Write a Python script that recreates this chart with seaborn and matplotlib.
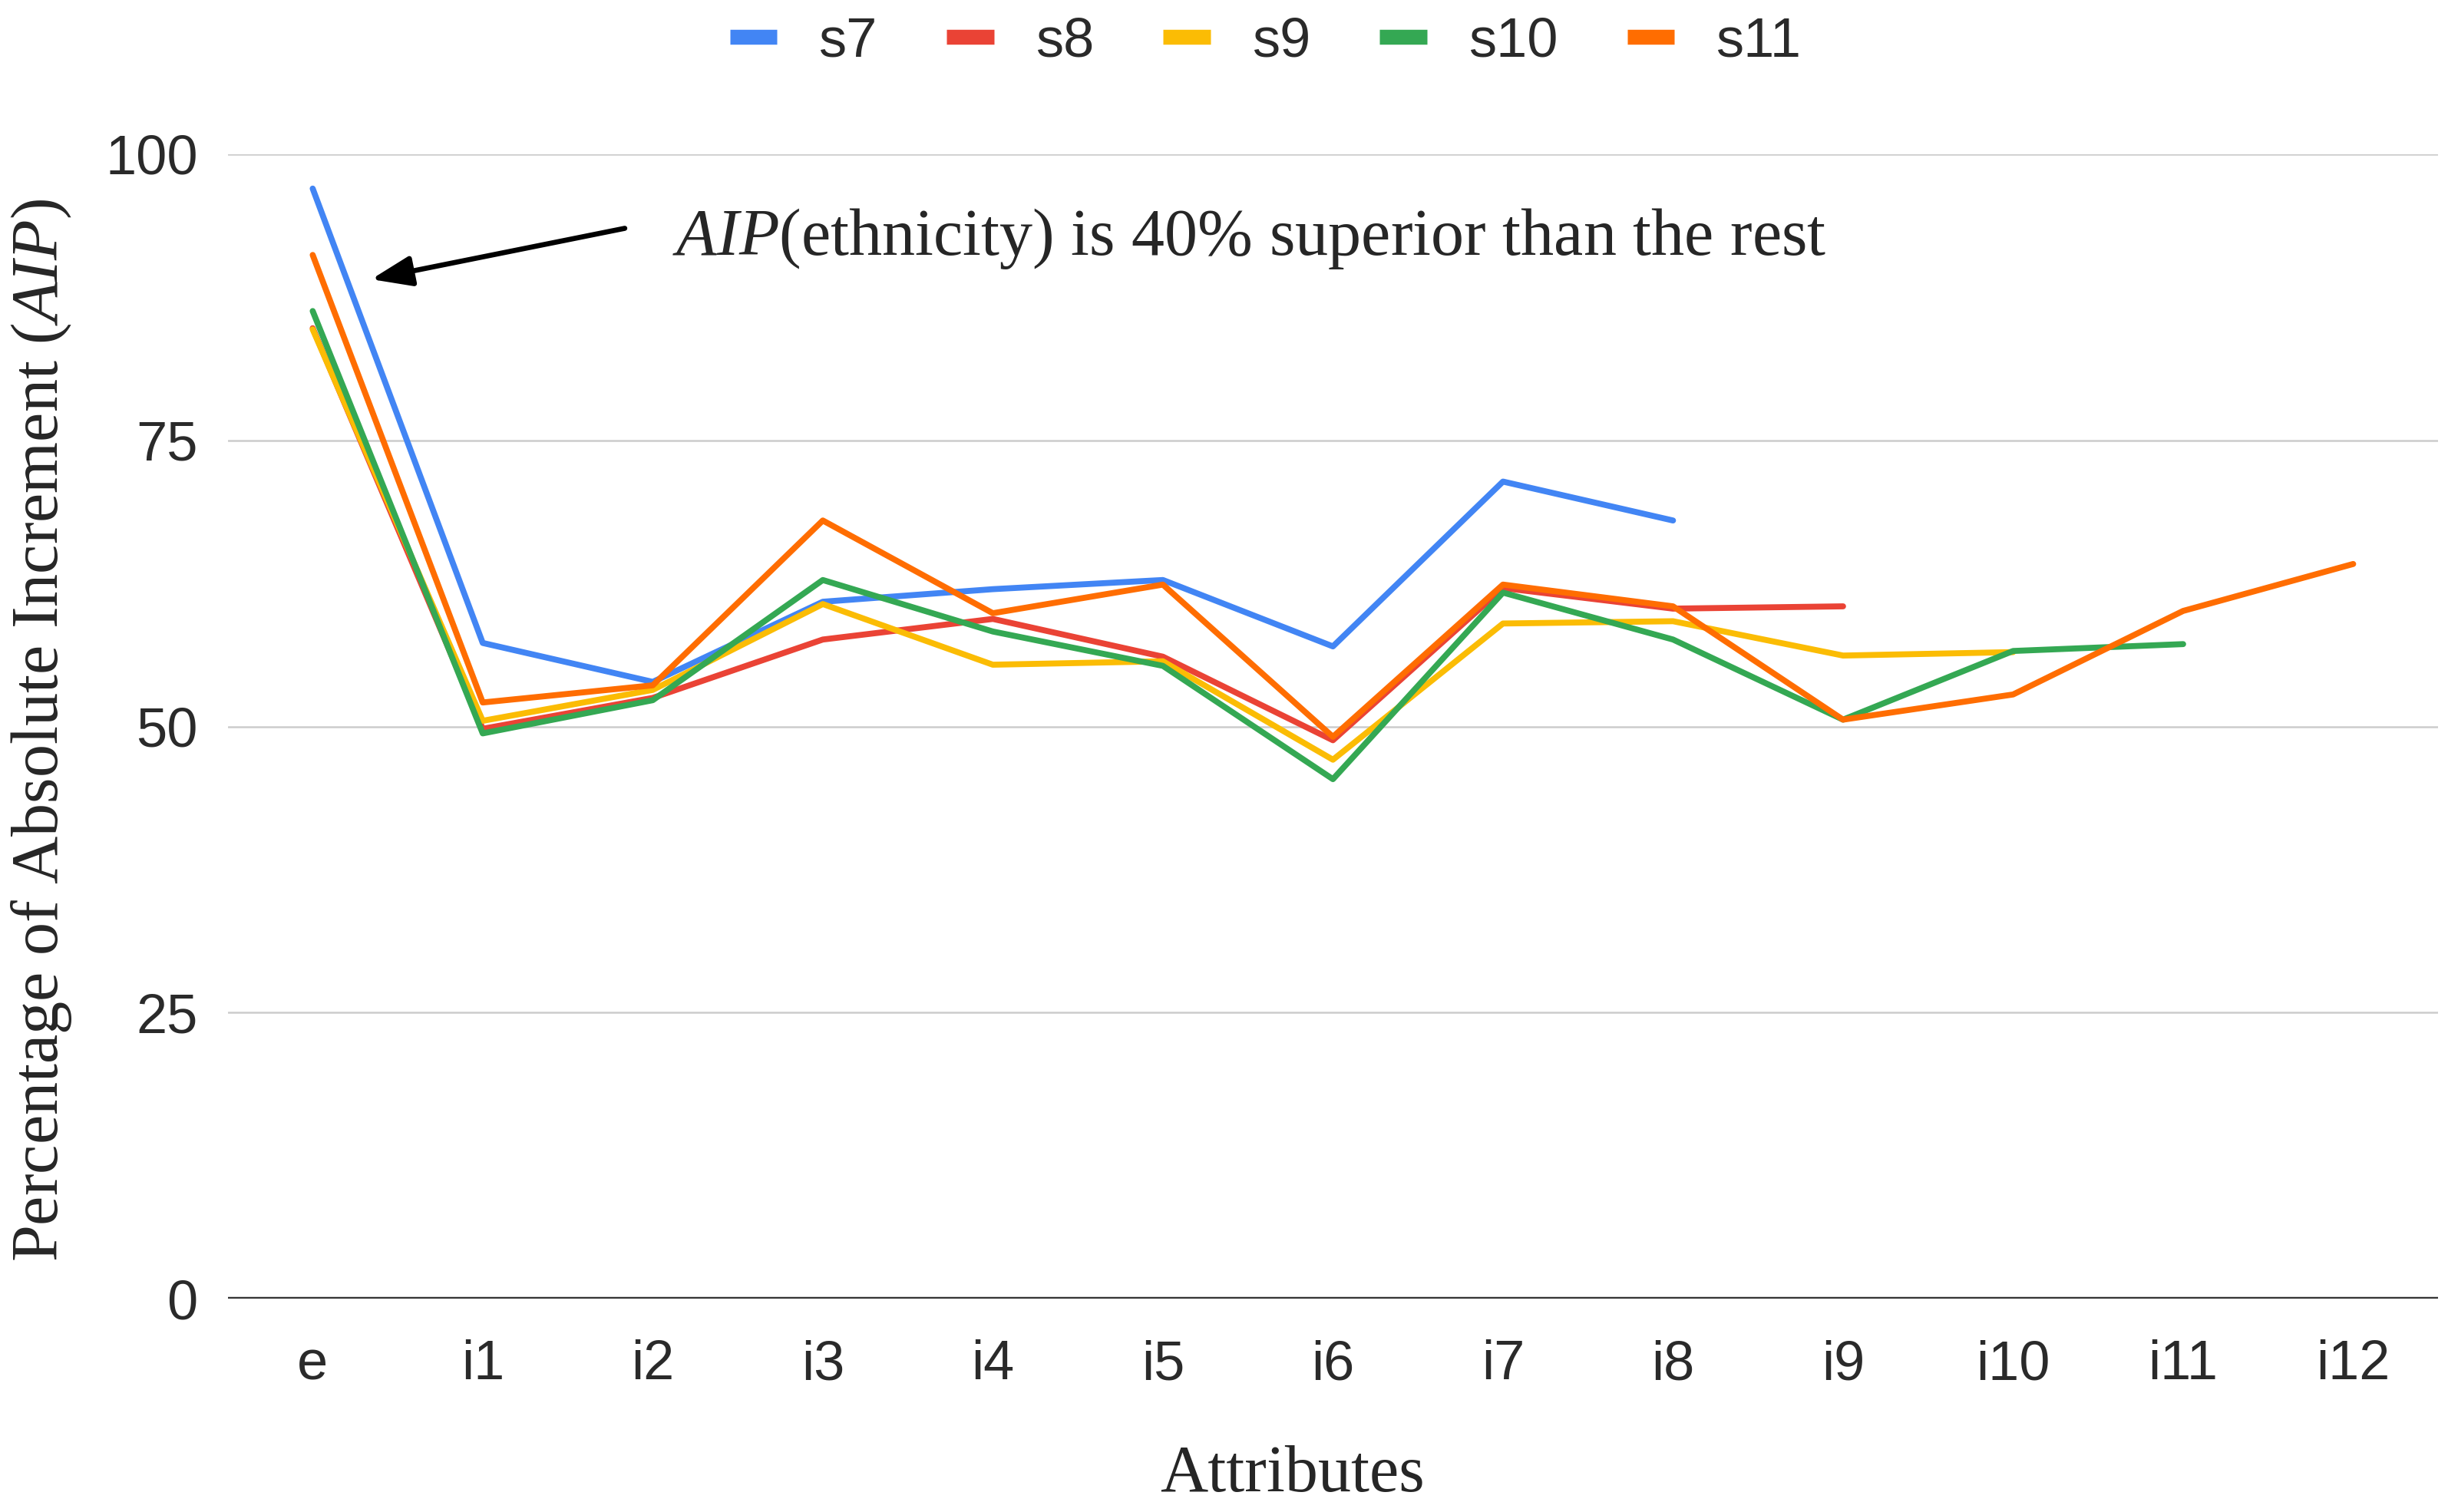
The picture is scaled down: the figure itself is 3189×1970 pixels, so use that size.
import pandas as pd
import seaborn as sns
import matplotlib.pyplot as plt

# Valores
attributes = ['e', 'i1', 'i2', 'i3', 'i4', 'i5', 'i6', 'i7', 'i8', 'i9', 'i10', 'i11', 'i12']
series_names = ['s7', 's8', 's9', 's10', 's11']
s7 = [97.0, 57.3, 53.9, 60.9, 62.0, 62.8, 57.0, 71.4, 68.0]
s8 = [84.8, 49.8, 52.5, 57.6, 59.4, 56.1, 48.8, 62.1, 60.3, 60.5]
s9 = [84.7, 50.5, 53.2, 60.7, 55.4, 55.7, 47.1, 59.0, 59.2, 56.2, 56.5]
s10 = [86.3, 49.4, 52.3, 62.8, 58.3, 55.3, 45.4, 61.7, 57.6, 50.6, 56.6, 57.2]
s11 = [91.2, 52.1, 53.6, 68.0, 59.9, 62.4, 49.1, 62.4, 60.5, 50.6, 52.8, 60.1, 64.2]
colors = ['#4285F4', '#EA4335', '#FBBC04', '#34A853', '#FF6D01']
y_ticks = [0, 25, 50, 75, 100]


def build_frame():
    rows = []
    for name, values in zip(series_names, [s7, s8, s9, s10, s11]):
        for i, v in enumerate(values):
            rows.append({'serie': name, 'pos': i, 'valor': v})
    return pd.DataFrame(rows)


def main():
    df = build_frame()

    sns.set_style('white')
    plt.rcParams['font.family'] = ['Liberation Sans', 'DejaVu Sans']
    plt.rcParams['mathtext.fontset'] = 'custom'
    plt.rcParams['mathtext.rm'] = 'Liberation Serif'
    plt.rcParams['mathtext.it'] = 'Liberation Serif:italic'

    fig = plt.figure(figsize=(15.945, 9.85), dpi=200)
    ax = fig.add_axes([0.093, 0.141, 0.903, 0.757])

    sns.lineplot(data=df, x='pos', y='valor', hue='serie', hue_order=series_names,
                 palette=colors, sort=False, linewidth=2.8, ax=ax, clip_on=False)

    ax.set_xlim(-0.5, len(attributes) - 0.5)
    ax.set_ylim(0, 100)
    ax.set_xticks(range(len(attributes)))
    ax.set_xticklabels(attributes)
    ax.set_yticks(y_ticks)
    ax.tick_params(axis='both', length=0, labelsize=26, labelcolor='#2a2a2a')
    ax.tick_params(axis='y', pad=14)
    ax.tick_params(axis='x', pad=19)
    ax.grid(axis='y', color='#cccccc', linewidth=0.9)
    ax.set_axisbelow(True)
    for sp in ax.spines.values():
        sp.set_visible(False)
    ax.axhline(0, color='#333333', linewidth=1.6, zorder=1)
    ax.set_xlabel('')
    ax.set_ylabel('')

    fig.text(0.017, 0.517, r'Percentage of Absolute Increment ($\mathit{AIP}$)',
             rotation=90, ha='center', va='center', fontsize=31, family='Liberation Serif')
    fig.text(0.528, 0.024, 'Attributes', ha='center', va='center', fontsize=31,
             family='Liberation Serif')

    ax.annotate('', xy=(0.32, 89.0), xytext=(1.86, 93.6),
                arrowprops=dict(arrowstyle='-|>,head_length=1.6,head_width=0.6',
                                color='black', lw=2.4))
    ax.text(2.115, 92.6, r'$\mathit{AIP(}$ethnicity$\mathit{)}$ is 40% superior than the rest',
            ha='left', va='center', fontsize=31, family='Liberation Serif')

    sns.move_legend(ax, 'center', bbox_to_anchor=(0.4695, 1.098), ncol=5, frameon=False,
                    title=None, fontsize=26, handlelength=0.85, handletextpad=0.75,
                    columnspacing=1.25)
    leg = ax.get_legend()
    for line in leg.get_lines():
        line.set_linewidth(7)
        line.set_solid_capstyle('butt')
    for t in leg.get_texts():
        t.set_color('#2a2a2a')

    fig.savefig('out.png', dpi=200)


if __name__ == '__main__':
    main()
